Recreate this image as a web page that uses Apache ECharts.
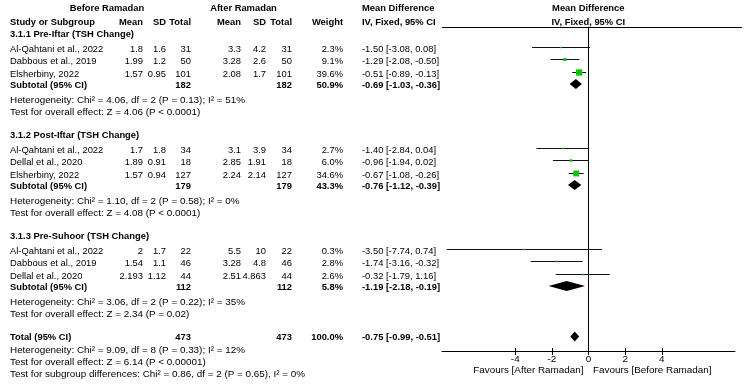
<!DOCTYPE html>
<html>
<head>
<meta charset="utf-8">
<style>
  html, body { margin: 0; padding: 0; background: #fff; }
  #chart { width: 745px; height: 385px; }
</style>
<script src="https://cdn.jsdelivr.net/npm/echarts@6/dist/echarts.min.js"></script>
</head>
<body>
<div id="chart"></div>
<script>
// ---- data ----
const groupNames = ['3.1.1 Pre-Iftar (TSH Change)', '3.1.2 Post-Iftar (TSH Change)', '3.1.3 Pre-Suhoor (TSH Change)'];
const studies = [
  'Al-Qahtani et al., 2022', 'Dabbous et al., 2019', 'Elsherbiny, 2022',
  'Al-Qahtani et al., 2022', 'Dellal et al., 2020', 'Elsherbiny, 2022',
  'Al-Qahtani et al., 2022', 'Dabbous et al., 2019', 'Dellal et al., 2020'
];
const groupOf = [0, 0, 0, 1, 1, 1, 2, 2, 2];
const beforeMean = [1.8, 1.99, 1.57, 1.7, 1.89, 1.57, 2, 1.54, 2.193];
const beforeSD = [1.6, 1.2, 0.95, 1.8, 0.91, 0.94, 1.7, 1.1, 1.12];
const beforeN = [31, 50, 101, 34, 18, 127, 22, 46, 44];
const afterMean = [3.3, 3.28, 2.08, 3.1, 2.85, 2.24, 5.5, 3.28, 2.51];
const afterSD = [4.2, 2.6, 1.7, 3.9, 1.91, 2.14, 10, 4.8, 4.863];
const afterN = [31, 50, 101, 34, 18, 127, 22, 46, 44];
const weights = [2.3, 9.1, 39.6, 2.7, 6.0, 34.6, 0.3, 2.8, 2.6];
const md = [-1.50, -1.29, -0.51, -1.40, -0.96, -0.67, -3.50, -1.74, -0.32];
const ciLow = [-3.08, -2.08, -0.89, -2.84, -1.94, -1.08, -7.74, -3.16, -1.79];
const ciHigh = [0.08, -0.50, -0.13, 0.04, 0.02, -0.26, 0.74, -0.32, 1.16];

const subBeforeN = [182, 179, 112];
const subAfterN = [182, 179, 112];
const subWeight = [50.9, 43.3, 5.8];
const subMd = [-0.69, -0.76, -1.19];
const subLow = [-1.03, -1.12, -2.18];
const subHigh = [-0.36, -0.39, -0.19];
const hetTexts = [
  'Heterogeneity: Chi\u00b2 = 4.06, df = 2 (P = 0.13); I\u00b2 = 51%',
  'Heterogeneity: Chi\u00b2 = 1.10, df = 2 (P = 0.58); I\u00b2 = 0%',
  'Heterogeneity: Chi\u00b2 = 3.06, df = 2 (P = 0.22); I\u00b2 = 35%'
];
const effectTexts = [
  'Test for overall effect: Z = 4.06 (P < 0.0001)',
  'Test for overall effect: Z = 4.08 (P < 0.0001)',
  'Test for overall effect: Z = 2.34 (P = 0.02)'
];

const totalBeforeN = 473;
const totalAfterN = 473;
const totalWeight = 100.0;
const totalMd = -0.75;
const totalLow = -0.99;
const totalHigh = -0.51;
const totalHet = 'Heterogeneity: Chi\u00b2 = 9.09, df = 8 (P = 0.33); I\u00b2 = 12%';
const totalEffect = 'Test for overall effect: Z = 6.14 (P < 0.00001)';
const subgroupTest = 'Test for subgroup differences: Chi\u00b2 = 0.86, df = 2 (P = 0.65), I\u00b2 = 0%';

const tickValues = [-4, -2, 0, 2, 4];
const leftFavour = 'Favours [After Ramadan]';
const rightFavour = 'Favours [Before Ramadan]';

// ---- layout ----
const FONT = 'Arial, "Liberation Sans", sans-serif';
const FS = 9.4;
const FS_STATS = 9.9;
const groupTop = [34, 135, 236];
const rowOffsets = [15, 27.5, 40];
const subOffset = 51.5, hetOffset = 66, effOffset = 78.5;
const totalY = 337.5;
const colX = { name: 10, bMean: 143, bSD: 166, bN: 191, aMean: 241, aSD: 266, aN: 292, weight: 343, ci: 362 };

const fmt2 = (v) => v.toFixed(2);
const ciText = (m, lo, hi) => fmt2(m) + ' [' + fmt2(lo) + ', ' + fmt2(hi) + ']';

const graphics = [];
function txt(x, y, text, align, bold, size) {
  graphics.push({
    type: 'text', x: x, y: y, silent: true,
    style: {
      text: text, fill: '#000', font: (bold ? 'bold ' : '') + (size || FS) + 'px ' + FONT,
      align: align || 'left', verticalAlign: 'middle'
    }
  });
}

// headers
txt(107, 8, 'Before Ramadan', 'center', true);
txt(243.5, 8, 'After Ramadan', 'center', true);
txt(colX.ci, 8, 'Mean Difference', 'left', true);
txt(588.3, 8, 'Mean Difference', 'center', true);
txt(colX.name, 22, 'Study or Subgroup', 'left', true);
txt(colX.bMean, 22, 'Mean', 'right', true);
txt(colX.bSD, 22, 'SD', 'right', true);
txt(colX.bN, 22, 'Total', 'right', true);
txt(colX.aMean, 22, 'Mean', 'right', true);
txt(colX.aSD, 22, 'SD', 'right', true);
txt(colX.aN, 22, 'Total', 'right', true);
txt(colX.weight, 22, 'Weight', 'right', true);
txt(colX.ci, 22, 'IV, Fixed, 95% CI', 'left', true);
txt(588.3, 22, 'IV, Fixed, 95% CI', 'center', true);
graphics.push({
  type: 'line', silent: true,
  shape: { x1: 442, y1: 27.5, x2: 742, y2: 27.5 },
  style: { stroke: '#000', lineWidth: 1 }
});

const studyPts = [];
const diamondPts = [];
const perGroupIdx = [0, 0, 0];

studies.forEach((s, i) => {
  const g = groupOf[i];
  const y = groupTop[g] + rowOffsets[perGroupIdx[g]++];
  txt(colX.name, y, s, 'left');
  txt(colX.bMean, y, String(beforeMean[i]), 'right');
  txt(colX.bSD, y, String(beforeSD[i]), 'right');
  txt(colX.bN, y, String(beforeN[i]), 'right');
  txt(colX.aMean, y, String(afterMean[i]), 'right');
  txt(colX.aSD, y, String(afterSD[i]), 'right');
  txt(colX.aN, y, String(afterN[i]), 'right');
  txt(colX.weight, y, weights[i].toFixed(1) + '%', 'right');
  txt(colX.ci, y, ciText(md[i], ciLow[i], ciHigh[i]), 'left');
  studyPts.push([md[i], y - 2.5, ciLow[i], ciHigh[i], weights[i]]);
});

groupNames.forEach((name, g) => {
  const t = groupTop[g];
  txt(colX.name, t, name, 'left', true);
  const ys = t + subOffset;
  txt(colX.name, ys, 'Subtotal (95% CI)', 'left', true);
  txt(colX.bN, ys, String(subBeforeN[g]), 'right', true);
  txt(colX.aN, ys, String(subAfterN[g]), 'right', true);
  txt(colX.weight, ys, subWeight[g].toFixed(1) + '%', 'right', true);
  txt(colX.ci, ys, ciText(subMd[g], subLow[g], subHigh[g]), 'left', true);
  txt(colX.name, t + hetOffset, hetTexts[g], 'left', false, FS_STATS);
  txt(colX.name, t + effOffset, effectTexts[g], 'left', false, FS_STATS);
  diamondPts.push([subMd[g], ys - 1.5, subLow[g], subHigh[g]]);
});

txt(colX.name, totalY, 'Total (95% CI)', 'left', true);
txt(colX.bN, totalY, String(totalBeforeN), 'right', true);
txt(colX.aN, totalY, String(totalAfterN), 'right', true);
txt(colX.weight, totalY, totalWeight.toFixed(1) + '%', 'right', true);
txt(colX.ci, totalY, ciText(totalMd, totalLow, totalHigh), 'left', true);
txt(colX.name, totalY + 13, totalHet, 'left', false, FS_STATS);
txt(colX.name, totalY + 25, totalEffect, 'left', false, FS_STATS);
txt(colX.name, totalY + 37, subgroupTest, 'left', false, FS_STATS);
diamondPts.push([totalMd, totalY - 1, totalLow, totalHigh]);

txt(583.5, 370.5, leftFavour, 'right', false, FS_STATS);
txt(593, 370.5, rightFavour, 'left', false, FS_STATS);

const chart = echarts.init(document.getElementById('chart'));

const crisp = (v) => Math.round(v) + 0.5;

chart.setOption({
  backgroundColor: '#fff',
  animation: false,
  grid: { left: 442, right: 10, top: 27, bottom: 34 },
  xAxis: [
    {
      type: 'value', min: -8, max: 8, interval: 2, position: 'bottom',
      axisLine: { onZero: false, lineStyle: { color: '#000', width: 1 } },
      axisTick: { show: true, length: 4, customValues: tickValues, lineStyle: { color: '#000' } },
      axisLabel: { customValues: tickValues, color: '#000', fontSize: FS_STATS, fontFamily: FONT, margin: 3 },
      splitLine: { show: false }
    },
    {
      type: 'value', min: -8, max: 8, interval: 2, position: 'bottom',
      axisLine: { show: false, onZero: false },
      axisTick: { show: true, inside: true, length: 3, customValues: tickValues, lineStyle: { color: '#000' } },
      axisLabel: { show: false },
      splitLine: { show: false }
    }
  ],
  yAxis: {
    type: 'value', min: 27, max: 351, inverse: true,
    axisLine: { show: true, onZero: true, lineStyle: { color: '#000', width: 1 } },
    axisTick: { show: false },
    axisLabel: { show: false },
    splitLine: { show: false }
  },
  series: [
    {
      type: 'custom',
      clip: false,
      data: studyPts,
      renderItem: function (params, api) {
        const y = api.value(1);
        const p = api.coord([api.value(0), y]);
        const a = api.coord([api.value(2), y]);
        const b = api.coord([api.value(3), y]);
        const s = Math.max(1.5, Math.sqrt(api.value(4)));
        const ly = crisp(p[1]);
        return {
          type: 'group',
          children: [
            { type: 'line', shape: { x1: a[0], y1: ly, x2: b[0], y2: ly }, style: { stroke: '#111', lineWidth: 1 } },
            { type: 'rect', shape: { x: p[0] - s / 2, y: ly - s / 2, width: s, height: s }, style: { fill: '#0bc40b' } }
          ]
        };
      }
    },
    {
      type: 'custom',
      clip: false,
      data: diamondPts,
      renderItem: function (params, api) {
        const y = api.value(1);
        const c = api.coord([api.value(0), y]);
        const a = api.coord([api.value(2), y]);
        const b = api.coord([api.value(3), y]);
        const h = 5;
        return {
          type: 'polygon',
          shape: { points: [[a[0], c[1]], [c[0], c[1] - h], [b[0], c[1]], [c[0], c[1] + h]] },
          style: { fill: '#000' }
        };
      }
    }
  ],
  graphic: graphics
});
</script>
</body>
</html>
